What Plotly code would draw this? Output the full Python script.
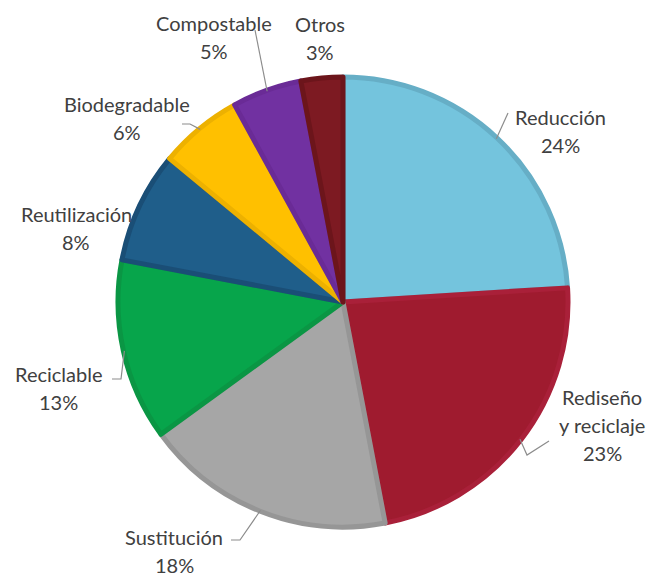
import math
import plotly.graph_objects as go

# ---- data ----
categories = ["Reducción", "Rediseño\ny reciclaje", "Sustitución", "Reciclable",
              "Reutilización", "Biodegradable", "Compostable", "Otros"]
values = [24, 23, 18, 13, 8, 6, 5, 3]

# ---- styles ----
fill_colors = ["#74C4DD", "#9F1B2F", "#A6A6A6", "#07A54B", "#1F5E8A", "#FFC000", "#7131A1", "#7D1A22"]
edge_colors = ["#66AEC6", "#A92039", "#969696", "#0A9644", "#1A4E76", "#EDB100", "#6A2B96", "#6C151B"]

W, H = 648, 580
CX, CY, R = 343, 302, 225

# label text centres (px) and leader-line outer points (px) per label
label_pos = [(560, 131), (602, 425), (174, 551), (58, 388), (76, 228), (127, 118), (214, 37), (320, 38)]
leader_out = [(508, 113), [(549, 441), (527, 455)], [(231, 540), (240, 540)], [(112, 379), (121, 379)],
              None, [(182, 124), (190, 124)], (255, 30), None]
LINE_SP = 28
FONT = dict(family="Lato, Carlito, sans-serif", size=20, color="#404040")

fig = go.Figure(go.Pie(
    labels=[c.replace("\n", " ") for c in categories],
    values=values,
    sort=False,
    direction="clockwise",
    rotation=0,
    textinfo="none",
    hoverinfo="label+percent",
    marker=dict(colors=fill_colors, line=dict(color=edge_colors, width=5)),
    domain=dict(x=[(CX - R) / W, (CX + R) / W], y=[1 - (CY + R) / H, 1 - (CY - R) / H]),
    showlegend=False,
))

def px2paper(x, y):
    return x / W, 1 - y / H

total = sum(values)
annotations = []
shapes = []
cum = 0
for i, (cat, v) in enumerate(zip(categories, values)):
    pct = round(100 * v / total)
    lines = cat.split("\n") + [f"{pct}%"]
    lx, ly = label_pos[i]
    n = len(lines)
    for j, t in enumerate(lines):
        yy = ly + (j - (n - 1) / 2) * LINE_SP
        ax, ay = px2paper(lx, yy)
        annotations.append(dict(x=ax, y=ay, xref="paper", yref="paper", text=t,
                                showarrow=False, font=FONT, xanchor="center", yanchor="middle"))
    lo = leader_out[i]
    if lo is not None:
        ang = 2 * math.pi * (cum + 0.5 * v) / total
        ex = CX + (R - 1) * math.sin(ang)
        ey = CY - (R - 1) * math.cos(ang)
        pts = lo if isinstance(lo, list) else [lo]
        path_pts = [pts[0]] + pts[1:] + [(ex, ey)]
        path = ""
        for k, (px_, py_) in enumerate(path_pts):
            path += ("M" if k == 0 else "L") + f"{px_/W:.5f},{1 - py_/H:.5f} "
        shapes.append(dict(type="path", xref="paper", yref="paper", path=path.strip(),
                           line=dict(color="#8C8C8C", width=1.2)))
    cum += v

fig.update_layout(
    width=W, height=H,
    margin=dict(l=0, r=0, t=0, b=0),
    paper_bgcolor="white",
    plot_bgcolor="white",
    annotations=annotations,
    shapes=shapes,
)

fig.write_html("out.html")
